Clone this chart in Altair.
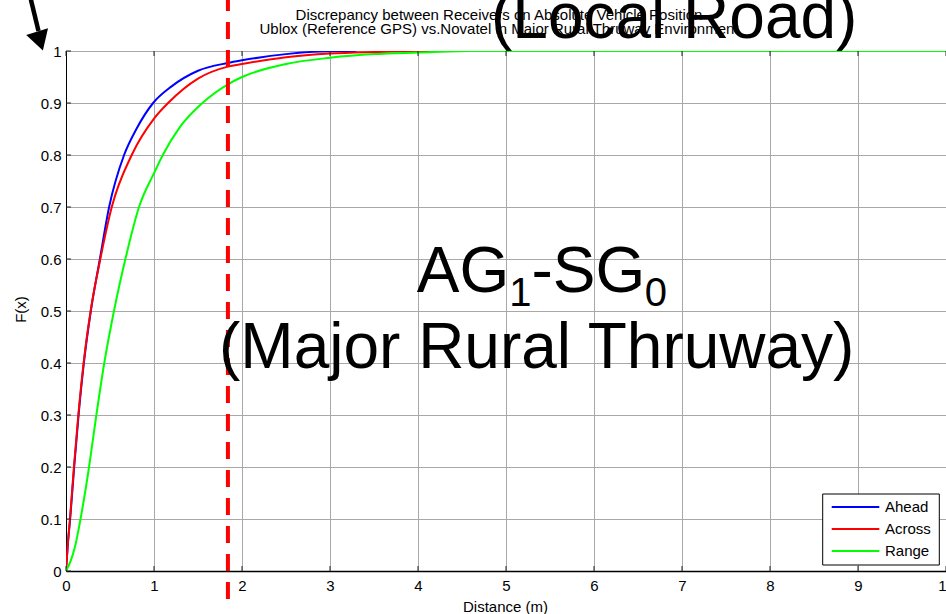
import altair as alt
import pandas as pd

FONT = "Liberation Sans, Arial, sans-serif"

# Empirical CDFs of the receiver discrepancy (distance in metres)
ahead_x = [0, 0.02, 0.047, 0.093, 0.143, 0.203, 0.282, 0.385, 0.49, 0.66, 0.8, 0.99, 1.2, 1.5, 1.84, 2.0, 2.5, 2.9, 3.3]
ahead_f = [0, 0.05, 0.1, 0.2, 0.3, 0.4, 0.5, 0.6, 0.7, 0.8, 0.85, 0.9, 0.932, 0.962, 0.977, 0.982, 0.994, 0.999, 1.0]

across_x = [0, 0.02, 0.045, 0.09, 0.14, 0.2, 0.28, 0.39, 0.52, 0.747, 1.0, 1.16, 1.5, 1.84, 2.0, 2.5, 3.0, 3.5, 3.9, 4.6]
across_f = [0, 0.05, 0.1, 0.2, 0.3, 0.4, 0.5, 0.6, 0.7, 0.8, 0.87, 0.9, 0.947, 0.97, 0.975, 0.988, 0.995, 0.998, 0.9995, 1.0]

range_x = [0, 0.05, 0.1, 0.165, 0.262, 0.345, 0.435, 0.545, 0.675, 0.83, 1.0, 1.1, 1.3, 1.55, 1.84, 2.0, 2.5, 3.0, 3.5, 4.0, 4.6, 10]
range_f = [0, 0.018, 0.045, 0.1, 0.2, 0.3, 0.4, 0.5, 0.6, 0.7, 0.765, 0.8, 0.855, 0.9, 0.936, 0.95, 0.975, 0.987, 0.994, 0.997, 1.0, 1.0]

series_names = ["Ahead", "Across", "Range"]
series_colors = ["#0000ff", "#ff0000", "#00ff00"]

threshold_x = [1.84]

x_ticks = [0, 1, 2, 3, 4, 5, 6, 7, 8, 9, 10]
y_ticks = [0, 0.1, 0.2, 0.3, 0.4, 0.5, 0.6, 0.7, 0.8, 0.9, 1]

title_lines = [
    "Discrepancy between Receivers on Absolute Vehicle Position",
    "Ublox (Reference GPS) vs.Novatel in Major Rural Thruway Environment",
]

rows = []
for name, xs, fs in zip(series_names, [ahead_x, across_x, range_x], [ahead_f, across_f, range_f]):
    for i, (x, f) in enumerate(zip(xs, fs)):
        rows.append({"series": name, "distance": x, "F": f, "idx": i})
curves = pd.DataFrame(rows)

x_scale = alt.Scale(domain=[0, 10], nice=False, zero=False)
y_scale = alt.Scale(domain=[0, 1], nice=False, zero=False)
color_scale = alt.Scale(domain=series_names, range=series_colors)

x_axis = alt.Axis(
    values=x_ticks, format="d", ticks=False, labelPadding=7, labelFlush=False,
    labelFont=FONT, labelFontSize=15, labelColor="black",
    domainColor="black", domainWidth=1.5,
    grid=True, gridColor="#a8a8a8", gridWidth=1,
    title="Distance (m)", titleFont=FONT, titleFontSize=15, titleFontWeight="normal",
    titleColor="black", titleX=439, titleY=40, titleBaseline="alphabetic",
)
y_axis = alt.Axis(
    values=y_ticks, format="~g", ticks=False, labelPadding=5, labelFlush=False,
    labelFont=FONT, labelFontSize=15, labelColor="black",
    domainColor="black", domainWidth=1,
    grid=True, gridColor="#a8a8a8", gridWidth=1,
    title="F(x)", titleFont=FONT, titleFontSize=15, titleFontWeight="normal",
    titleColor="black", titleX=-41, titleY=258, titleBaseline="alphabetic", titleAngle=270,
)

lines = alt.Chart(curves).mark_line(strokeWidth=2, interpolate="monotone", clip=True).encode(
    x=alt.X("distance:Q", scale=x_scale, axis=x_axis),
    y=alt.Y("F:Q", scale=y_scale, axis=y_axis),
    color=alt.Color("series:N", scale=color_scale, legend=None),
    order="idx:Q",
)

# Inward tick marks on the bottom, top and left edges
xt = pd.DataFrame({"t": x_ticks})
yt = pd.DataFrame({"t": y_ticks})
tick_style = dict(color="#222222", strokeWidth=1)
bottom_ticks = alt.Chart(xt).mark_rule(**tick_style).encode(
    x=alt.X("t:Q", scale=x_scale, axis=x_axis), y=alt.value(520), y2=alt.value(515))
top_ticks = alt.Chart(xt).mark_rule(**tick_style).encode(
    x=alt.X("t:Q", scale=x_scale, axis=x_axis), y=alt.value(0), y2=alt.value(5))
left_ticks = alt.Chart(yt).mark_rule(**tick_style).encode(
    y=alt.Y("t:Q", scale=y_scale, axis=y_axis), x=alt.value(0), x2=alt.value(5))

# Dashed threshold line running past the plot frame
threshold = alt.Chart(pd.DataFrame({"d": threshold_x})).mark_rule(
    color="#ff0000", strokeWidth=4, strokeDash=[17, 11], strokeDashOffset=6, clip=False
).encode(x=alt.X("d:Q", scale=x_scale, axis=x_axis), y=alt.value(-51), y2=alt.value(549))

# Boxed legend in the lower-right corner
legend_df = pd.DataFrame({"series": series_names, "i": list(range(len(series_names)))})
legend_base = alt.Chart(legend_df).transform_calculate(ly="456 + 22 * datum.i")
legend_box = alt.Chart(pd.DataFrame({"k": [0]})).mark_rect(
    fill="white", stroke="black", strokeWidth=1
).encode(x=alt.value(756.7), x2=alt.value(873.3), y=alt.value(443), y2=alt.value(514))
legend_lines = legend_base.mark_rule(strokeWidth=2).encode(
    x=alt.value(765.7), x2=alt.value(813.3),
    y=alt.Y("ly:Q", scale=None, axis=None),
    color=alt.Color("series:N", scale=color_scale, legend=None),
)
legend_text = legend_base.mark_text(
    font=FONT, fontSize=15, color="black", align="left", baseline="middle"
).encode(x=alt.value(819), y=alt.Y("ly:Q", scale=None, axis=None), text="series:N")

anchor = pd.DataFrame({"k": [0]})


def label(text, x, y, size=64, align="left"):
    return alt.Chart(anchor).mark_text(
        text=text, font=FONT, fontSize=size, color="black", align=align,
        baseline="alphabetic", clip=False,
    ).encode(x=alt.value(x), y=alt.value(y))


title = alt.Chart(anchor).mark_text(
    text=title_lines, font=FONT, fontSize=15, lineHeight=13.5, color="black",
    align="center", baseline="alphabetic", clip=False,
).encode(x=alt.value(433), y=alt.value(-31))

# Arrow in the upper-left corner
arrow_shaft = alt.Chart(anchor).mark_rule(color="black", strokeWidth=4.5).encode(
    x=alt.value(-35.5), y=alt.value(-53), x2=alt.value(-27.5), y2=alt.value(-20))
arrow_head = alt.Chart(anchor).mark_point(
    shape="triangle-down", size=520, angle=343, filled=True, color="black", opacity=1
).encode(x=alt.value(-26), y=alt.value(-10))

chart = alt.layer(
    lines,
    bottom_ticks, top_ticks, left_ticks,
    threshold,
    legend_box, legend_lines, legend_text,
    title,
    label("(Local Road)", 425, -13),
    label("AG", 350.7, 241),
    label("1", 443.2, 255, size=40),
    label("-SG", 465.4, 241),
    label("0", 578.8, 255, size=40),
    label("(Major Rural Thruway)", 153, 317),
    arrow_shaft, arrow_head,
).properties(
    width=880, height=520,
    autosize=alt.AutoSizeParams(type="none"),
    padding={"left": 66, "top": 51, "right": 0, "bottom": 43},
    background="white",
).configure_view(stroke="black", strokeWidth=1)

chart.save("out.html", embed_options={"renderer": "svg", "actions": False})
